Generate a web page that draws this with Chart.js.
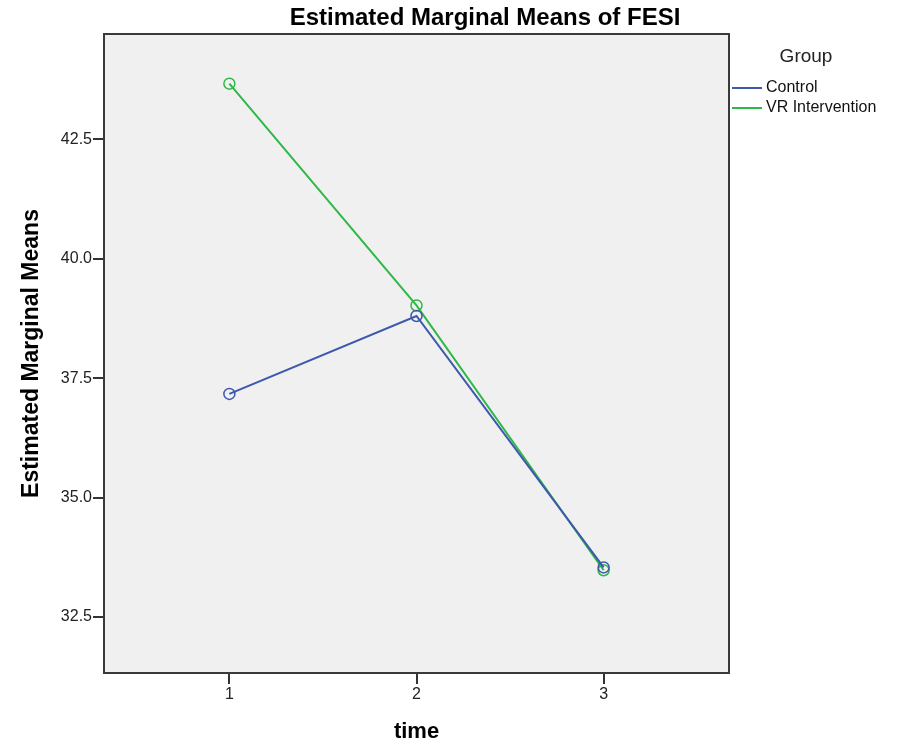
<!DOCTYPE html>
<html>
<head>
<meta charset="utf-8">
<script src="https://cdn.jsdelivr.net/npm/chart.js@4"></script>
<style>
  html, body { margin: 0; padding: 0; background: #ffffff; }
  #wrap { width: 897px; height: 746px; position: relative; }
</style>
</head>
<body>
<div id="wrap"><canvas id="chart" width="897" height="746"></canvas></div>
<script>
const times = [1, 2, 3];
const groupNames = ['Control', 'VR Intervention'];
const controlMeans = [37.17, 38.80, 33.54];
const vrMeans = [43.66, 39.02, 33.48];
const yTickValues = [32.5, 35.0, 37.5, 40.0, 42.5];

const BLUE = '#3e58ac';
const GREEN = '#2eb848';
const FONT = '"Liberation Sans", Arial, sans-serif';

// plot frame, titles and legend drawn around the chart area
const framePlugin = {
    id: 'frame',
    beforeDraw(chart) {
        const { ctx, chartArea: a } = chart;
        ctx.save();
        ctx.fillStyle = '#f0f0f0';
        ctx.fillRect(a.left, a.top, a.right - a.left, a.bottom - a.top);
        ctx.restore();
    },
    afterDraw(chart) {
        const { ctx, chartArea: a } = chart;
        ctx.save();
        ctx.strokeStyle = '#3a3a3a';
        ctx.lineWidth = 2;
        ctx.strokeRect(a.left, a.top, a.right - a.left, a.bottom - a.top);

        ctx.fillStyle = '#000';
        ctx.textAlign = 'center';
        ctx.textBaseline = 'middle';
        ctx.font = 'bold 24px ' + FONT;
        ctx.fillText('Estimated Marginal Means of FESI', 485, 18);

        ctx.font = 'bold 22px ' + FONT;
        ctx.fillText('time', (a.left + a.right) / 2, 732);
        ctx.save();
        ctx.font = 'bold 23px ' + FONT;
        ctx.translate(32, (a.top + a.bottom) / 2);
        ctx.rotate(-Math.PI / 2);
        ctx.fillText('Estimated Marginal Means', 0, 0);
        ctx.restore();

        // legend
        ctx.font = '19px ' + FONT;
        ctx.fillStyle = '#222';
        ctx.fillText('Group', 806, 57);
        ctx.font = '16px ' + FONT;
        ctx.textAlign = 'left';
        chart.data.datasets.forEach((ds, i) => {
            const y = 88 + i * 20;
            ctx.strokeStyle = ds.borderColor;
            ctx.lineWidth = 2;
            ctx.beginPath();
            ctx.moveTo(732, y);
            ctx.lineTo(762, y);
            ctx.stroke();
            ctx.fillStyle = '#111';
            ctx.fillText(ds.label, 766, y);
        });
        ctx.restore();
    }
};

const seriesValues = [controlMeans, vrMeans];
const colors = [BLUE, GREEN];

new Chart(document.getElementById('chart').getContext('2d'), {
    type: 'line',
    data: {
        datasets: groupNames.map((name, i) => ({
            label: name,
            data: times.map((t, j) => ({ x: t, y: seriesValues[i][j] })),
            borderColor: colors[i],
            backgroundColor: 'rgba(0,0,0,0)',
            borderWidth: 2,
            pointRadius: 5.5,
            pointBorderWidth: 1.5,
            pointBackgroundColor: 'rgba(0,0,0,0)',
            pointBorderColor: colors[i],
            tension: 0,
            fill: false,
        })),
    },
    options: {
        responsive: false,
        animation: false,
        layout: { padding: { left: 0, right: 168, top: 34, bottom: 0 } },
        plugins: { legend: { display: false }, title: { display: false }, tooltip: { enabled: false } },
        scales: {
            x: {
                type: 'linear',
                min: 0.33,
                max: 3.67,
                afterBuildTicks: (scale) => { scale.ticks = times.map(v => ({ value: v })); },
                afterFit: (scale) => { scale.height = 73; },
                grid: { drawOnChartArea: false, drawTicks: true, tickLength: 11, color: '#333', lineWidth: 2 },
                border: { display: false },
                ticks: { color: '#222', font: { family: FONT, size: 16 }, padding: 1, maxRotation: 0,
                         callback: (v) => String(v) },
            },
            y: {
                min: 31.33,
                max: 44.70,
                afterBuildTicks: (scale) => { scale.ticks = yTickValues.map(v => ({ value: v })); },
                afterFit: (scale) => { scale.width = 104; },
                grid: { drawOnChartArea: false, drawTicks: true, tickLength: 11, color: '#333', lineWidth: 2 },
                border: { display: false },
                ticks: { color: '#222', font: { family: FONT, size: 16 }, padding: 1,
                         callback: (v) => v.toFixed(1) },
            },
        },
    },
    plugins: [framePlugin],
});
</script>
</body>
</html>
